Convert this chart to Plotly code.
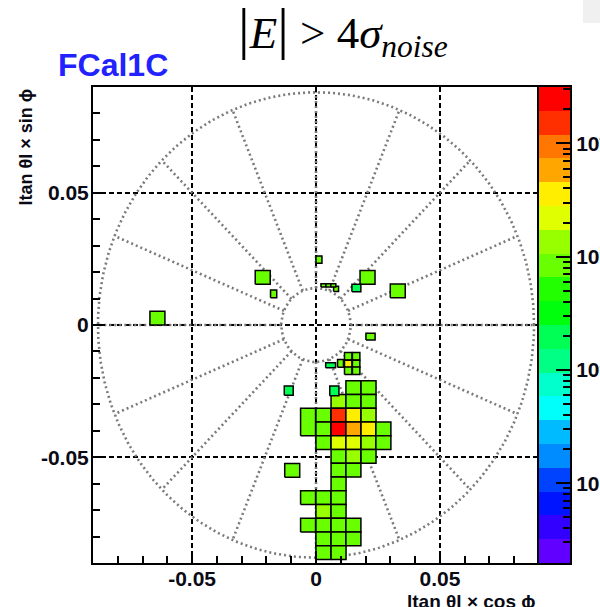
import colorsys
import math

import numpy as np
import plotly.graph_objects as go

# ---------------- cell data: FCal1C cells with |E| > 4 sigma_noise ----------------
# centre position, size (in |tan theta| units) and energy (MeV) of each cell
cell_x = [
    # main cluster
    0.0151, 0.0212,
    0.0091, 0.0151, 0.0212,
    -0.0032, 0.0030, 0.0091, 0.0151, 0.0212,
    0.0030, 0.0091, 0.0151, 0.0212, 0.0272,
    0.0030, 0.0091, 0.0151, 0.0212, 0.0272,
    0.0091, 0.0151, 0.0212,
    0.0091, 0.0151,
    0.0091,
    -0.0032, 0.0030, 0.0091,
    0.0030, 0.0091,
    -0.0032, 0.0030, 0.0091, 0.0151,
    0.0030, 0.0091, 0.0151,
    0.0030, 0.0091,
    # small cells on top of the cluster
    0.0130, 0.0162, 0.0130, 0.0162, 0.0130, 0.0162, 0.0099, 0.0059, 0.0074,
    # isolated cells
    -0.0215, 0.0208, 0.0330, -0.0640, -0.0096,
    0.0012, -0.0171, 0.0081, 0.0163, 0.0220, -0.0110,
    0.0030, 0.0050, 0.0070,
]
cell_y = [
    -0.0237, -0.0237,
    -0.0289, -0.0289, -0.0289,
    -0.0367, -0.0341, -0.0341, -0.0341, -0.0341,
    -0.0393, -0.0393, -0.0393, -0.0393, -0.0393,
    -0.0445, -0.0445, -0.0445, -0.0445, -0.0445,
    -0.0497, -0.0497, -0.0497,
    -0.0549, -0.0549,
    -0.0601,
    -0.0653, -0.0653, -0.0653,
    -0.0705, -0.0705,
    -0.0757, -0.0757, -0.0757, -0.0757,
    -0.0809, -0.0809, -0.0809,
    -0.0861, -0.0861,
    -0.0118, -0.0118, -0.0147, -0.0147, -0.0173, -0.0173, -0.0145, -0.0152, -0.0249,
    0.0180, 0.0180, 0.0129, 0.0026, -0.0550,
    0.0247, 0.0118, 0.0137, 0.0140, -0.0044, -0.0248,
    0.0150, 0.0150, 0.0150,
]
cell_w = [0.00605] * 40 + [0.0030] * 6 + [0.0024, 0.0040, 0.0037] + \
         [0.00605] * 5 + [0.0024, 0.0025, 0.0020, 0.0036, 0.0037, 0.0036] + [0.0020] * 3
cell_h = [0.0052] * 5 + [0.0104] + [0.0052] * 34 + [0.0028] * 6 + [0.0030, 0.0019, 0.0037] + \
         [0.0052] * 5 + [0.0027, 0.0029, 0.0020, 0.0028, 0.0025, 0.0035] + [0.0012] * 3
cell_e = [
    840, 910,
    1400, 960, 820,
    780, 870, 15200, 3600, 1250,
    760, 31000, 5800, 3500, 800,
    830, 2300, 2150, 1700, 780,
    870, 1380, 820,
    900, 780,
    850,
    770, 880, 820,
    1500, 1050,
    790, 860, 820, 760,
    810, 880, 790,
    830, 770,
    780, 820, 3400, 790, 760, 800, 820, 200, 210,
    880, 830, 800, 790, 770,
    760, 780, 750, 200, 790, 210,
    760, 760, 760,
]

# colour axis: log10(E) range and decade labels
z_log_min, z_log_max = 0.295, 4.498
n_bands = 20
cbar_decades = [1, 2, 3, 4]

# detector outline drawn as dotted guides
r_outer, r_inner = 0.088, 0.014
n_spokes = 16


def root_palette(n):
    """ROOT 'pretty' violet->red palette sampled at n contour levels."""
    cols = []
    for j in range(n):
        i = int((j + 0.99) * 50 / n)
        hue = 280 - (i + 1) * (280 / 50)
        r, g, b = colorsys.hls_to_rgb(hue / 360.0, 0.5, 1.0)
        cols.append("#%02x%02x%02x" % (int(r * 255), int(g * 255), int(b * 255)))
    return cols


band_cols = root_palette(n_bands)
band_w = (z_log_max - z_log_min) / n_bands
colorscale = []
for k, c in enumerate(band_cols):
    colorscale.append([k / n_bands, c])
    colorscale.append([(k + 1) / n_bands, c])


def band_colour(e):
    k = int((math.log10(e) - z_log_min) / band_w)
    return band_cols[min(max(k, 0), n_bands - 1)]


fig = go.Figure()

# dotted detector guides (circles and radial spokes)
dot_line = dict(color="#7a7a7a", width=2.6, dash="2px,3px")
t = np.linspace(0, 2 * np.pi, 400)
for r in (r_outer, r_inner):
    fig.add_trace(go.Scatter(x=r * np.cos(t), y=r * np.sin(t), mode="lines",
                             line=dot_line, hoverinfo="skip", showlegend=False))
for k in range(n_spokes):
    a = k * 2 * np.pi / n_spokes
    fig.add_trace(go.Scatter(x=[r_inner * np.cos(a), r_outer * np.cos(a)],
                             y=[r_inner * np.sin(a), r_outer * np.sin(a)],
                             mode="lines", line=dot_line, hoverinfo="skip", showlegend=False))

# cells as filled boxes with black outline
for x, y, w, h, e in zip(cell_x, cell_y, cell_w, cell_h, cell_e):
    x0, x1, y0, y1 = x - w / 2, x + w / 2, y - h / 2, y + h / 2
    fig.add_trace(go.Scatter(x=[x0, x1, x1, x0, x0], y=[y0, y0, y1, y1, y0],
                             mode="lines", fill="toself", fillcolor=band_colour(e),
                             line=dict(color="black", width=1.5),
                             hovertext="E = %g MeV" % e, hoverinfo="text", showlegend=False))

# colour bar built as a one-column heatmap on a log axis
edges = [10 ** (z_log_min + k * band_w) for k in range(n_bands + 1)]
centres = [[z_log_min + (k + 0.5) * band_w] for k in range(n_bands)]
fig.add_trace(go.Heatmap(x=[0, 1], y=edges, z=centres, colorscale=colorscale,
                         zmin=z_log_min, zmax=z_log_max, showscale=False,
                         xaxis="x2", yaxis="y2", hoverinfo="skip"))

minor_vals = [m * 10 ** d for d in range(0, 5) for m in range(2, 10)]

W, H = 600, 607
ml, mr, mt, mb = 93, 30, 87, 44
pw = W - ml - mr
split = 446 / pw

tick_font = dict(family="Liberation Sans, Arial, sans-serif", size=21, color="#0a0a14")
axis_common = dict(
    range=[-0.09, 0.09], tickvals=[-0.05, 0, 0.05],
    ticktext=["<b>-0.05</b>", "<b>0</b>", "<b>0.05</b>"],
    ticks="inside", ticklen=12, tickwidth=1.5, tickcolor="black",
    minor=dict(ticks="inside", ticklen=7, tickwidth=1.5, tickcolor="black",
               dtick=0.01, tick0=0, showgrid=False),
    showgrid=True, gridcolor="black", gridwidth=1.5, griddash="5px,3px",
    zeroline=False, showline=True, linecolor="black", linewidth=2, mirror=True,
    tickfont=tick_font, automargin=False,
)

fig.update_layout(
    width=W, height=H, margin=dict(l=ml, r=mr, t=mt, b=mb, autoexpand=False),
    paper_bgcolor="white", plot_bgcolor="white", showlegend=False,
    xaxis=dict(domain=[0, split], **axis_common, ticklabelstandoff=-4),
    yaxis=dict(**axis_common, ticklabelstandoff=-2),
    xaxis2=dict(domain=[split, 1], range=[0, 1], anchor="y2", showticklabels=False,
                ticks="", showgrid=False, zeroline=False, showline=True,
                linecolor="black", linewidth=2, mirror=True, automargin=False),
    yaxis2=dict(anchor="x2", type="log", range=[z_log_min, z_log_max], side="right",
                tickvals=[10 ** d for d in cbar_decades],
                ticktext=["<b>10<sup>%d</sup></b>" % d for d in cbar_decades],
                ticks="inside", ticklen=14, tickwidth=1.5, tickcolor="black",
                minor=dict(ticks="inside", ticklen=7, tickwidth=1.5, tickcolor="black",
                           tickvals=minor_vals, showgrid=False),
                showgrid=False, zeroline=False, showline=True, linecolor="black",
                linewidth=2, mirror=True, tickfont=tick_font, automargin=False),
)


def px(xp):
    return (xp - ml) / pw


def py(yp):
    return (H - mb - yp) / (H - mt - mb)


bar = '<span style="font-size:58px">|</span>'
fig.add_annotation(
    text=bar + "<i>E</i>" + bar + " > 4<i>σ</i><sub><i>noise</i></sub>",
    x=px(343), y=py(30), xref="paper", yref="paper", xanchor="center", yanchor="middle",
    showarrow=False, font=dict(family="Liberation Serif, Times New Roman, serif", size=45, color="black"),
)
fig.add_annotation(
    text="<b>FCal1C</b>", x=px(56), y=py(65), xref="paper", yref="paper",
    xanchor="left", yanchor="middle", showarrow=False,
    font=dict(family="Liberation Sans, Arial, sans-serif", size=32, color="#2222ff"),
)
fig.add_annotation(
    text="<b>ltan θl × cos ϕ</b>", x=px(538), y=py(601), xref="paper", yref="paper",
    xanchor="right", yanchor="middle", showarrow=False,
    font=dict(family="Liberation Sans, Arial, sans-serif", size=19, color="#0a0a14"),
)
fig.add_annotation(
    text="<b>ltan θl × sin ϕ</b>", x=px(25), y=py(87), xref="paper", yref="paper",
    xanchor="center", yanchor="top", textangle=-90, showarrow=False,
    font=dict(family="Liberation Sans, Arial, sans-serif", size=18, color="#0a0a14"),
)
fig.add_shape(type="rect", xref="paper", yref="paper", x0=px(583), x1=px(601),
              y0=py(23), y1=py(-1), fillcolor="#f0f0f0", line=dict(width=0), layer="below")

fig.write_html("out.html")
